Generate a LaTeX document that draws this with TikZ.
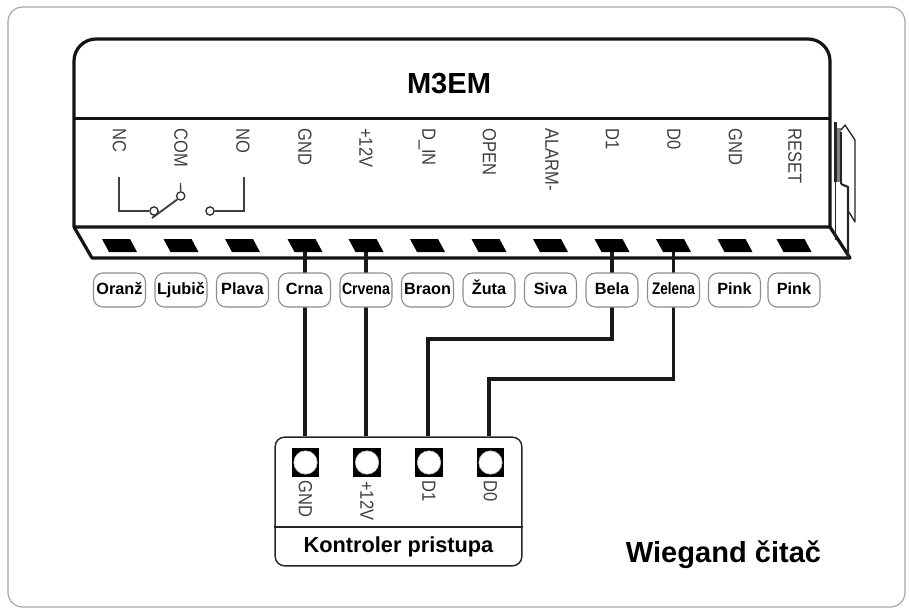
\documentclass[tikz,border=0pt]{standalone}
\usepackage{fontspec}
\setmainfont{Liberation Sans}
\tikzset{
  x=0.75pt,y=-0.75pt,
  frameline/.style={draw=black!35,line width=0.9pt,rounded corners=11pt},
  body/.style={draw=black!92,line width=2.4pt,line join=round},
  thinbody/.style={draw=black!85,line width=1.2pt,line join=round},
  wire/.style={draw=black!90,line width=2.4pt},
  relay/.style={draw=black!75,line width=1pt},
  relaydot/.style={circle,draw=black!80,line width=1pt,fill=white,minimum size=6.2pt,inner sep=0pt},
  pin/.style={rotate=-90,anchor=west,inner sep=0pt,text=black!75,font=\fontsize{12.4}{14}\selectfont},
  pill/.style={draw=black!45,line width=0.8pt,fill=white,rounded corners=7pt,minimum width=39pt,minimum height=25.5pt,inner sep=0pt,text height=8.9pt,text depth=2.6pt,font=\bfseries\fontsize{12.2}{14}\selectfont},
  jack/.style={fill=black,minimum width=20.5pt,minimum height=21.5pt,inner sep=0pt},
  hole/.style={circle,fill=white,draw=black!25,line width=0.5pt,minimum size=17.5pt,inner sep=0pt},
  ctrlbox/.style={draw=black!85,line width=1.1pt,rounded corners=7pt,fill=white,minimum width=185pt,minimum height=96.5pt,inner sep=0pt},
}
\newcommand{\pinlabel}[1]{\scalebox{1}[1.15]{#1}}
\begin{document}
\begin{tikzpicture}
\useasboundingbox (0,0) rectangle (909,610);
\fill[white] (0,0) rectangle (909,610);
\draw[frameline] (8,7) rectangle (905,607);

% housing
\draw[body] (74,227) [rounded corners=16.5pt] -- (74,39) -- (830,39) -- (830,100) [sharp corners] -- (830,227) -- cycle;
\draw[body] (74,118.5) -- (830,118.5);
\draw[body] (74,227) -- (92,258) -- (850,258) -- (830,227);
% side latch
\fill[black!50] (836,128) rectangle (841,182);
\draw[thinbody,line width=2pt] (835.5,122) -- (835.5,182);
\draw[thinbody,line width=1pt] (835.5,182) -- (835.5,240);
\draw[thinbody,line width=2pt] (841,132) -- (841,184);
\draw[thinbody,line width=1.6pt] (841,184) -- (848,187) -- (848,258);
\draw[thinbody,line width=1pt] (841,130) -- (845,125) -- (855,140) -- (855,222) -- (849,212);

% terminals
\coordinate (t1) at (119.5,245.5);
\coordinate (t2) at (181,245.5);
\coordinate (t3) at (242.5,245.5);
\coordinate (t4) at (305,245.5);
\coordinate (t5) at (366,245.5);
\coordinate (t6) at (427.5,245.5);
\coordinate (t7) at (489,245.5);
\coordinate (t8) at (550.5,245.5);
\coordinate (t9) at (612,245.5);
\coordinate (t10) at (673.5,245.5);
\coordinate (t11) at (735,245.5);
\coordinate (t12) at (794,245.5);

% controller
\node[ctrlbox] (ctrl) at (398.5,501.5) {};
\draw[draw=black!85,line width=1.1pt] (ctrl.west |- 0,527) -- (ctrl.east |- 0,527);
\node[jack] (s1) at (305.5,462.5) {};
\node[jack] (s2) at (367,462.5) {};
\node[jack] (s3) at (429,462.5) {};
\node[jack] (s4) at (490.5,462.5) {};
\foreach \i in {1,2,3,4}{\node[hole] (h\i) at (s\i) {};}
\node[pin] (c1) at (305.5,480) {\pinlabel{GND}};
\node[pin] (c2) at (367,481) {\pinlabel{+12V}};
\node[pin] (c3) at (429,480) {\pinlabel{D1}};
\node[pin] (c4) at (490.5,480) {\pinlabel{D0}};
\node[inner sep=0pt,font=\bfseries\fontsize{16.3}{18}\selectfont] (ctitle) at (398.5,547) {Kontroler pristupa};

% wires
\coordinate (b1) at (428,339);
\coordinate (b2) at (489,379);
\draw[wire] (t4) -- (t4 |- ctrl.north);
\draw[wire] (t5) -- (t5 |- ctrl.north);
\draw[wire] (t9) |- (b1) -- (b1 |- ctrl.north);
\draw[wire] (t10) |- (b2) -- (b2 |- ctrl.north);

% terminal shapes
\foreach \i in {1,...,12}{
  \fill[black] (t\i) ++(-17.5,-6.5) -- ++(28,0) -- ++(7,13) -- ++(-28,0) -- cycle;
}

% pills
\node[pill] (p1) at (119.5,290) {Oranž};
\node[pill] (p2) at (181,290) {Ljubič};
\node[pill] (p3) at (242.5,290) {Plava};
\node[pill] (p4) at (304.5,290) {Crna};
\node[pill] (p5) at (366,290) {\scalebox{0.87}[1]{Crvena}};
\node[pill] (p6) at (427.5,290) {Braon};
\node[pill] (p7) at (489,290) {Žuta};
\node[pill] (p8) at (550.5,290) {Siva};
\node[pill] (p9) at (612,290) {Bela};
\node[pill] (p10) at (673.5,290) {\scalebox{0.83}[1.03]{Zelena}};
\node[pill] (p11) at (734.5,290) {Pink};
\node[pill] (p12) at (794,290) {Pink};

% pin labels
\node[pin] (l1) at (119.5,128) {\pinlabel{NC}};
\node[pin] (l2) at (181,128) {\pinlabel{COM}};
\node[pin] (l3) at (243,128) {\pinlabel{NO}};
\node[pin] (l4) at (305,128) {\pinlabel{GND}};
\node[pin] (l5) at (366,128) {\pinlabel{+12V}};
\node[pin] (l6) at (427,128) {\pinlabel{D\_IN}};
\node[pin] (l7) at (489.5,128) {\pinlabel{OPEN}};
\node[pin] (l8) at (552,128) {\pinlabel{ALARM-}};
\node[pin] (l9) at (612.5,128) {\pinlabel{D1}};
\node[pin] (l10) at (674,128) {\pinlabel{D0}};
\node[pin] (l11) at (735.5,128) {\pinlabel{GND}};
\node[pin] (l12) at (795,128) {\pinlabel{RESET}};

% relay symbol
\coordinate (ncTop) at (119,177);
\coordinate (noTop) at (244,177);
\coordinate (comTop) at (180.5,183);
\coordinate (armEnd) at (152,218);
\node[relaydot] (d1) at (154,211) {};
\node[relaydot] (d2) at (180.7,196) {};
\node[relaydot] (d3) at (210,211) {};
\draw[relay] (ncTop) |- (d1.west);
\draw[relay] (noTop) |- (d3.east);
\draw[relay] (comTop) -- (d2.north);
\draw[relay,line width=1.4pt] (armEnd) -- (d2.south west);

\node[inner sep=0pt,font=\bfseries\fontsize{21.8}{24}\selectfont] (title) at (449,83.5) {M3EM};
\node[inner sep=0pt,font=\bfseries\fontsize{21.8}{24}\selectfont] (wieg) at (723.5,555) {Wiegand čitač};
\end{tikzpicture}
\end{document}
